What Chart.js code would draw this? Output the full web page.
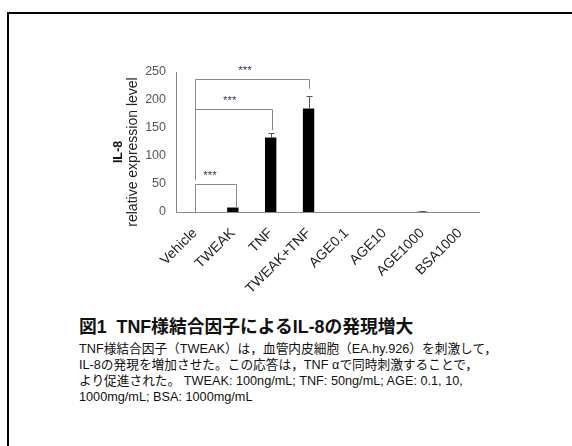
<!DOCTYPE html>
<html><head><meta charset="utf-8">
<script src="https://cdn.jsdelivr.net/npm/chart.js@4"></script>
<style>
html,body{margin:0;padding:0;background:#fff;width:572px;height:446px;overflow:hidden;}
#frame{position:absolute;left:7px;top:12px;width:620px;height:520px;border:2px solid #000;box-sizing:border-box;}
#wrap{position:absolute;left:0;top:0;width:572px;height:300px;}
#cap{position:absolute;left:79px;top:316px;font-family:"Liberation Sans","Noto Sans CJK JP",sans-serif;color:#111;white-space:nowrap;}
#cap .t{font-size:17.8px;font-weight:bold;margin:0;line-height:22px;}
#cap .b{font-size:12.7px;margin:3px 0 0 0;line-height:16px;}
</style></head>
<body>
<div id="frame"></div>
<div id="wrap"><canvas id="c" width="572" height="300"></canvas></div>
<div id="cap">
<div class="t">図1&nbsp;&nbsp;TNF様結合因子によるIL-8の発現増大</div>
<div class="b">TNF様結合因子（TWEAK）は，血管内皮細胞（EA.hy.926）を刺激して，<br>IL-8の発現を増加させた。この応答は，TNF αで同時刺激することで，<br>より促進された。 TWEAK: 100ng/mL; TNF: 50ng/mL; AGE: 0.1, 10,<br>1000mg/mL; BSA: 1000mg/mL</div>
</div>
<script>
const categories = ['Vehicle','TWEAK','TNF','TWEAK+TNF','AGE0.1','AGE10','AGE1000','BSA1000'];
const il8Values = [0, 8, 133, 185, 0, 0, 0.5, 0];
const il8Errors = [0, 0, 8, 22, 0, 0, 2, 0];
const yTickMin = 0, yTickMax = 250, yTickStep = 50;
const sigPairs = [[0,1],[0,2],[0,3]];
const sigLabels = ['***','***','***'];
const yTitleLines = ['IL-8','relative expression level'];

const overlay = {
  id:'overlay',
  afterDatasetsDraw(chart, args, opts){
    const ctx = chart.ctx, x = chart.scales.x, y = chart.scales.y;
    ctx.save();
    ctx.strokeStyle = '#555'; ctx.lineWidth = 1;
    il8Values.forEach((v,i)=>{
      const e = il8Errors[i]; if(!e) return;
      const px = Math.round(x.getPixelForValue(i)) + 0.5;
      const p1 = y.getPixelForValue(v), p2 = Math.round(y.getPixelForValue(v+e)) + 0.5;
      ctx.beginPath(); ctx.moveTo(px,p1); ctx.lineTo(px,p2);
      ctx.moveTo(px-3,p2); ctx.lineTo(px+3,p2); ctx.stroke();
    });
    ctx.strokeStyle = '#888';
    sigPairs.forEach((pr,k)=>{
      const b = opts.brackets[k];
      const xl = Math.round(x.getPixelForValue(pr[0])) + 0.5;
      const xr = Math.round(x.getPixelForValue(pr[1])) + 0.5 + b.dx;
      const yh = Math.round(y.getPixelForValue(b.level)) + 0.5;
      ctx.beginPath();
      ctx.moveTo(xl, y.getPixelForValue(b.leftEnd)); ctx.lineTo(xl, yh);
      ctx.lineTo(xr, yh); ctx.lineTo(xr, y.getPixelForValue(b.rightEnd));
      ctx.stroke();
      ctx.fillStyle = '#3a3a55';
      ctx.font = '11.5px "Liberation Sans", Arial';
      ctx.textAlign = 'center'; ctx.textBaseline = 'middle';
      ctx.fillText(sigLabels[k], x.getPixelForValue(b.starPos), yh - 9);
    });
    ctx.restore();
  },
  afterDraw(chart){
    const ctx = chart.ctx, a = chart.chartArea;
    const yc = (a.top + a.bottom)/2 + 10;
    ctx.save();
    ctx.textAlign = 'center'; ctx.textBaseline = 'middle';
    ctx.translate(a.left - 57, yc); ctx.rotate(-Math.PI/2);
    ctx.fillStyle = '#111';
    ctx.font = 'bold 12.5px "Liberation Sans", Arial';
    ctx.fillText(yTitleLines[0], 0, 0);
    ctx.font = '14px "Liberation Sans", Arial';
    ctx.fillStyle = '#222';
    ctx.fillText(yTitleLines[1], 0, 14);
    ctx.restore();
  }
};

new Chart(document.getElementById('c'), {
  type:'bar',
  data:{ labels:categories, datasets:[{ data:il8Values, backgroundColor:'#000', borderWidth:0,
    barPercentage:0.3, categoryPercentage:1 }]},
  options:{
    responsive:false, animation:false, devicePixelRatio:1,
    layout:{ padding:{ top:72, right:93, bottom:0, left:0 } },
    plugins:{ legend:{display:false}, tooltip:{enabled:false},
      overlay:{ brackets:[
        {level:50, leftEnd:0, rightEnd:7, dx:3, starPos:0.4},
        {level:184, leftEnd:57, rightEnd:146, dx:1, starPos:0.92},
        {level:237.5, leftEnd:57, rightEnd:220, dx:0, starPos:1.32}
      ]}},
    scales:{
      x:{ grid:{display:false, drawTicks:false}, border:{color:'#888', width:1},
        ticks:{ minRotation:45, maxRotation:45, autoSkip:false, padding:13, color:'#222',
          font:{ family:'"Liberation Sans", Arial', size:14 } },
        afterFit(s){ s.height = 88; } },
      y:{ min:yTickMin, max:yTickMax, grid:{display:false, drawTicks:false}, border:{color:'#888', width:1},
        ticks:{ stepSize:yTickStep, padding:10, color:'#555', font:{ family:'"Liberation Sans", Arial', size:12.5 } },
        afterFit(s){ s.width = 176; } }
    }
  },
  plugins:[overlay]
});
</script>
</body></html>
